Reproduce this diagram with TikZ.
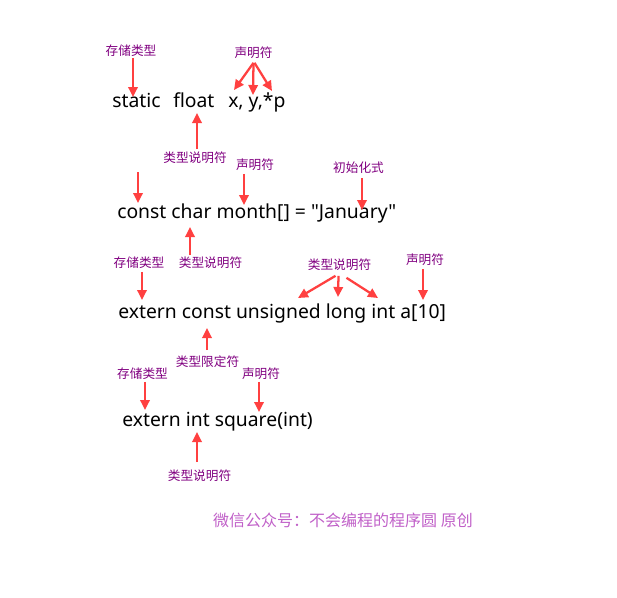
\documentclass[tikz,border=0pt]{standalone}
\usepackage{fontspec}
\setmainfont{Noto Sans CJK SC}
\newfontfamily\codefont[Ligatures={}]{Noto Sans}
\usetikzlibrary{arrows.meta}
\definecolor{arrred}{HTML}{FF4040}
\definecolor{labc}{HTML}{800080}
\definecolor{footc}{HTML}{C060C8}
\begin{document}
\begin{tikzpicture}[x=0.75pt,y=-0.75pt,
  code/.style={font=\codefont\fontsize{14.5}{17}\selectfont, inner sep=0pt, anchor=base west},
  lbl/.style={font=\fontsize{9.5}{11}\selectfont, text=labc, inner sep=0.5pt},
  arr/.style={draw=arrred, line width=1.7pt, -{Triangle[length=7.5pt,width=7pt]}}]
\useasboundingbox (0,0) rectangle (617,597);

% ---- row 1
\node[code] (w1) at (112,107) {static};
\node[code] (w2) at (173,107) {float};
\node[code] (w3) at (228,107) {x, y,*p};
\node[lbl] (l1a) at (131,51) {存储类型};
\node[lbl] (l1b) at (253.5,53) {声明符};
\node[lbl] (l1c) at (195,158) {类型说明符};
\coordinate (t1a) at (133,97);
\coordinate (t1b1) at (234,90);
\coordinate (t1b2) at (253,95);
\coordinate (t1b3) at (272,91);
\coordinate (t1c) at (197,113);
\draw[arr] (l1a.south -| t1a) -- (t1a);
\draw[arr] (l1b.south) ++(0,3) -- (t1b1);
\draw[arr] (l1b.south) ++(0,3) -- (t1b2);
\draw[arr] (l1b.south) ++(1,3) -- (t1b3);
\draw[arr] (l1c.north -| t1c) ++(0,-2) -- (t1c);

% ---- row 2
\node[code] (r2) at (117,218) {const char month[] = "January"};
\coordinate (s2a) at (138,172);
\coordinate (t2a) at (138,203);
\node[lbl] (l2b) at (255,165) {声明符};
\node[lbl] (l2c) at (358.5,168) {初始化式};
\node[lbl] (l2d) at (210.5,263) {类型说明符};
\coordinate (t2b) at (244,205);
\coordinate (t2c) at (362,210);
\coordinate (t2d) at (190,227);
\draw[arr] (s2a) -- (t2a);
\draw[arr] (l2b.south -| t2b) ++(0,2) -- (t2b);
\draw[arr] (l2c.south -| t2c) ++(0,3) -- (t2c);
\draw[arr] (l2d.north -| t2d) ++(0,-1) -- (t2d);

% ---- row 3
\node[code] (r3) at (118,318) {extern const unsigned long int a[10]};
\node[lbl] (l3a) at (139,263) {存储类型};
\node[lbl] (l3b) at (339.5,265) {类型说明符};
\node[lbl] (l3c) at (425,260) {声明符};
\node[lbl] (l3d) at (207.5,362) {类型限定符};
\coordinate (t3a) at (142,300);
\coordinate (t3b1) at (298,298);
\coordinate (t3b2) at (338,297);
\coordinate (t3b3) at (378,298);
\coordinate (t3c) at (423,300);
\coordinate (t3d) at (207,328);
\draw[arr] (l3a.south -| t3a) ++(0,2) -- (t3a);
\draw[arr] (l3b.south) ++(-4,4) -- (t3b1);
\draw[arr] (l3b.south) ++(-1,4) -- (t3b2);
\draw[arr] (l3b.south) ++(7,6) -- (t3b3);
\draw[arr] (l3c.south -| t3c) ++(0,2) -- (t3c);
\draw[arr] (l3d.north -| t3d) ++(0,-5) -- (t3d);

% ---- row 4
\node[code] (r4) at (122,426) {extern int square(int)};
\node[lbl] (l4a) at (142.5,374) {存储类型};
\node[lbl] (l4b) at (261,374) {声明符};
\node[lbl] (l4c) at (199.5,476) {类型说明符};
\coordinate (t4a) at (145,410);
\coordinate (t4b) at (259,412);
\coordinate (t4c) at (197,432);
\draw[arr] (l4a.south -| t4a) ++(0,1) -- (t4a);
\draw[arr] (l4b.south -| t4b) ++(0,1) -- (t4b);
\draw[arr] (l4c.north -| t4c) ++(0,-7) -- (t4c);

% ---- footer
\node[font=\fontsize{12}{14}\selectfont, text=footc, inner sep=0pt] (ft) at (343,520) {微信公众号：不会编程的程序圆 原创};
\end{tikzpicture}
\end{document}
